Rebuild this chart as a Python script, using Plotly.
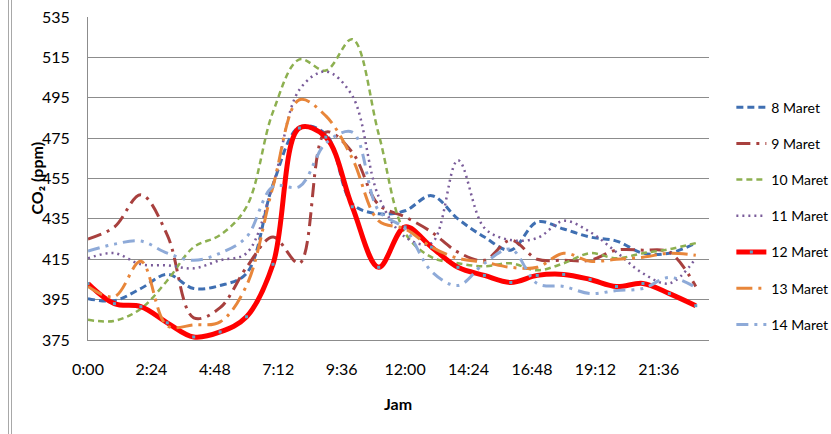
import plotly.graph_objects as go

hours = list(range(24))
tick_vals = [0, 2.4, 4.8, 7.2, 9.6, 12.0, 14.4, 16.8, 19.2, 21.6]
tick_text = ["0:00", "2:24", "4:48", "7:12", "9:36", "12:00", "14:24", "16:48", "19:12", "21:36"]
y_ticks = [375, 395, 415, 435, 455, 475, 495, 515, 535]

maret8 = [395.5, 394.5, 400.5, 407.5, 400.5, 402, 408, 452, 480.5, 477, 442.5, 437.5,
          439, 446.5, 435, 426, 419.5, 433.5, 430, 426, 424, 418, 418, 423]
maret9 = [425, 431, 447, 427, 386, 391, 411, 426, 413, 478, 468, 442,
          436, 428.5, 418.5, 414.5, 424.5, 415, 414.5, 414.5, 419.5, 419.5, 418.5, 401.5]
maret10 = [385, 384.5, 390.5, 404.5, 421, 427, 441, 488, 514, 508.5, 524, 477,
           428, 416, 413, 411.5, 413, 409.5, 413, 418, 415.5, 418, 420, 423]
maret11 = [415.5, 418, 412.5, 412, 410.5, 414.5, 418, 452, 499, 508, 496, 446,
           426, 423, 464, 430.5, 424.5, 425.5, 434, 428.5, 418.5, 408, 403, 415.5]
maret12 = [403, 393, 391.5, 383.5, 376.5, 379, 386.5, 412.5, 480, 475.5, 441, 411,
           431, 421, 411, 407, 403.5, 407, 407.5, 405, 401.5, 403, 398, 392]
maret13 = [401.5, 396.5, 414, 382, 382.5, 384, 402, 451, 494, 486, 465, 434,
           430, 421, 415.5, 413.5, 411, 411, 418, 414, 415, 416, 418, 417]
maret14 = [419, 422.5, 424, 418, 414.5, 418, 426, 451, 451, 472.5, 478, 439,
           430, 409, 402, 413, 420, 403, 401.5, 398, 399.5, 400.5, 406, 401]

series = [
    ("8 Maret", maret8, "#3F6FB2", 3, "7px,4px"),
    ("9 Maret", maret9, "#A8403E", 3, "14px,6px,3px,6px"),
    ("10 Maret", maret10, "#8DB050", 2.5, "6px,4px"),
    ("11 Maret", maret11, "#7A5C9A", 2.5, "2px,4px"),
    ("12 Maret", maret12, "#FF0000", 5, "solid"),
    ("13 Maret", maret13, "#E8863A", 3, "16px,6px,3px,6px"),
    ("14 Maret", maret14, "#8EAAD8", 3, "12px,6px,3px,6px,3px,6px"),
]

fig = go.Figure()
for name, vals, color, width, dash in series:
    is_red = name == "12 Maret"
    fig.add_trace(go.Scatter(
        x=hours, y=vals, name=name, legendgroup=name,
        mode="lines+markers" if is_red else "lines",
        line=dict(color=color, width=width, dash=dash, shape="spline", smoothing=1),
        marker=dict(size=3, symbol="square", color="#5FA3C8") if is_red else None,
    ))

FONT = "Lato, Liberation Sans, sans-serif"
font_ticks = dict(family=FONT, size=16, color="#000000")

fig.update_layout(
    width=831, height=434,
    margin=dict(l=88, r=122, t=17, b=94, autoexpand=False),
    paper_bgcolor="white", plot_bgcolor="white",
    showlegend=True,
    legend=dict(
        x=1.036, y=0.769, xanchor="left", yanchor="top",
        font=dict(family=FONT, size=14, color="#000000"),
        tracegroupgap=15, traceorder="grouped",
        bgcolor="rgba(0,0,0,0)",
    ),
    xaxis=dict(
        range=[0, 23.5], tickmode="array", tickvals=tick_vals, ticktext=tick_text,
        showgrid=False, zeroline=False, showline=True, linecolor="#8C8C8C", linewidth=1,
        ticks="", tickfont=font_ticks, ticklabelstandoff=15,
    ),
    yaxis=dict(
        range=[375, 535], tickmode="array", tickvals=y_ticks,
        showgrid=True, gridcolor="#8C8C8C", gridwidth=1, zeroline=False,
        showline=True, linecolor="#8C8C8C", linewidth=1,
        ticks="", tickfont=font_ticks, ticklabelstandoff=14,
    ),
    annotations=[
        dict(text="<b>CO₂ (ppm)</b>", xref="paper", yref="paper",
             x=(36 - 88) / 621, y=0.5, textangle=-90, showarrow=False,
             font=dict(family=FONT, size=16, color="#000000"),
             xanchor="center", yanchor="middle"),
        dict(text="<b>Jam</b>", xref="paper", yref="paper",
             x=0.499, y=(340 - 403) / 323, showarrow=False,
             font=dict(family=FONT, size=16, color="#000000"),
             xanchor="center", yanchor="middle"),
    ],
    shapes=[
        dict(type="line", xref="paper", yref="paper", x0=(8.5 - 88) / 621, x1=(8.5 - 88) / 621,
             y0=(340 - 0) / 323, y1=(340 - 434) / 323, line=dict(color="#A8A8A8", width=1)),
        dict(type="line", xref="paper", yref="paper", x0=(11.5 - 88) / 621, x1=(11.5 - 88) / 621,
             y0=(340 - 0) / 323, y1=(340 - 434) / 323, line=dict(color="#A8A8A8", width=1)),
    ],
)

fig.write_html("out.html")
